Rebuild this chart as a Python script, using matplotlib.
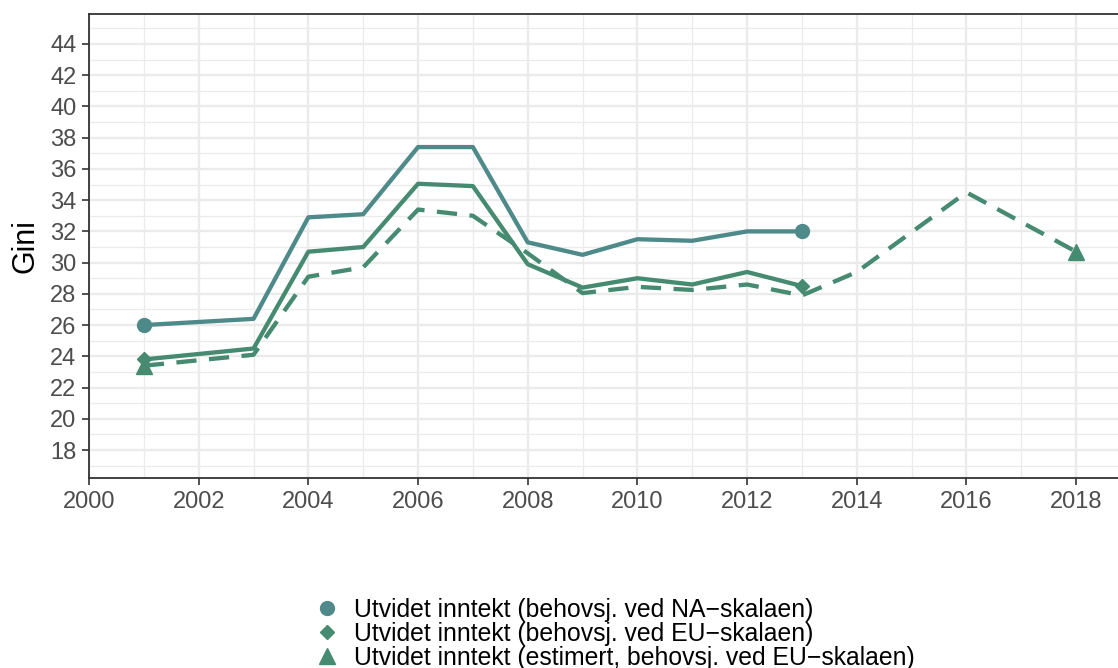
import matplotlib
matplotlib.use("Agg")
import matplotlib.pyplot as plt
from matplotlib import font_manager
from matplotlib.lines import Line2D

# data
years_na = [2001, 2003, 2004, 2005, 2006, 2007, 2008, 2009, 2010, 2011, 2012, 2013]
gini_na = [26.0, 26.4, 32.9, 33.1, 37.4, 37.4, 31.3, 30.5, 31.5, 31.4, 32.0, 32.0]

years_eu = [2001, 2003, 2004, 2005, 2006, 2007, 2008, 2009, 2010, 2011, 2012, 2013]
gini_eu = [23.8, 24.5, 30.7, 31.0, 35.05, 34.9, 29.9, 28.4, 29.0, 28.6, 29.4, 28.5]

years_est = [2001, 2003, 2004, 2005, 2006, 2007, 2008, 2009, 2010, 2011, 2012, 2013, 2014, 2016, 2018]
gini_est = [23.4, 24.1, 29.1, 29.7, 33.4, 33.0, 30.6, 28.05, 28.45, 28.25, 28.6, 27.9, 29.4, 34.5, 30.7]

labels = ["Utvidet inntekt (behovsj. ved NA\u2212skalaen)",
          "Utvidet inntekt (behovsj. ved EU\u2212skalaen)",
          "Utvidet inntekt (estimert, behovsj. ved EU\u2212skalaen)"]

col_na = "#4f8a8b"
col_eu = "#468b71"

names = {f.name for f in font_manager.fontManager.ttflist}
base_font = "Liberation Sans" if "Liberation Sans" in names else "DejaVu Sans"
plt.rcParams["font.family"] = [base_font, "DejaVu Sans"]

W, H = 1118, 668
fig = plt.figure(figsize=(W / 100, H / 100), dpi=100)
ax = fig.add_axes([89 / W, (H - 478) / H, (1120 - 89) / W, 464 / H])

lw = 3.1
ax.plot(years_na, gini_na, color=col_na, lw=lw, solid_joinstyle="round", zorder=3)
ax.plot(years_eu, gini_eu, color=col_eu, lw=lw, solid_joinstyle="round", zorder=3)
ax.plot(years_est, gini_est, color=col_eu, lw=lw, dashes=(4.7, 2.9), dash_capstyle="butt", zorder=3)

# markers only at first and last point
ax.plot([years_na[0], years_na[-1]], [gini_na[0], gini_na[-1]], "o", color=col_na, ms=10, zorder=4)
ax.plot([years_eu[0], years_eu[-1]], [gini_eu[0], gini_eu[-1]], "D", color=col_eu, ms=7.5, zorder=4)
ax.plot([years_est[0], years_est[-1]], [gini_est[0], gini_est[-1]], "^", color=col_eu, ms=12, zorder=4)

ax.set_xlim(2000, 2018.8)
ax.set_ylim(16.21, 45.92)
ax.set_xticks(range(2000, 2019, 2))
ax.set_xticks(range(2001, 2019, 2), minor=True)
ax.set_yticks(range(18, 45, 2))
ax.set_yticks(range(17, 46, 2), minor=True)

ax.grid(which="major", color="#ebebeb", lw=1.7, zorder=0)
ax.grid(which="minor", color="#ebebeb", lw=0.9, zorder=0)
ax.set_axisbelow(True)

for s in ax.spines.values():
    s.set_color("#333333")
    s.set_linewidth(1.3)

ax.tick_params(axis="both", which="major", colors="#333333", length=5, width=1.2,
               labelsize=17, labelcolor="#4d4d4d", pad=4)
ax.tick_params(axis="both", which="minor", length=0)
ax.set_ylabel("Gini", fontsize=22, labelpad=7)

handles = [Line2D([], [], ls="none", marker="o", color=col_na, ms=10),
           Line2D([], [], ls="none", marker="D", color=col_eu, ms=7),
           Line2D([], [], ls="none", marker="^", color=col_eu, ms=12)]
fig.legend(handles, labels, loc="upper left", bbox_to_anchor=(312 / W, 1 - 598 / H),
           frameon=False, prop={"size": 17.8},
           handlelength=1.2, handletextpad=0.5, labelspacing=0.0, borderpad=0, borderaxespad=0)

fig.savefig("out.png", dpi=100)
